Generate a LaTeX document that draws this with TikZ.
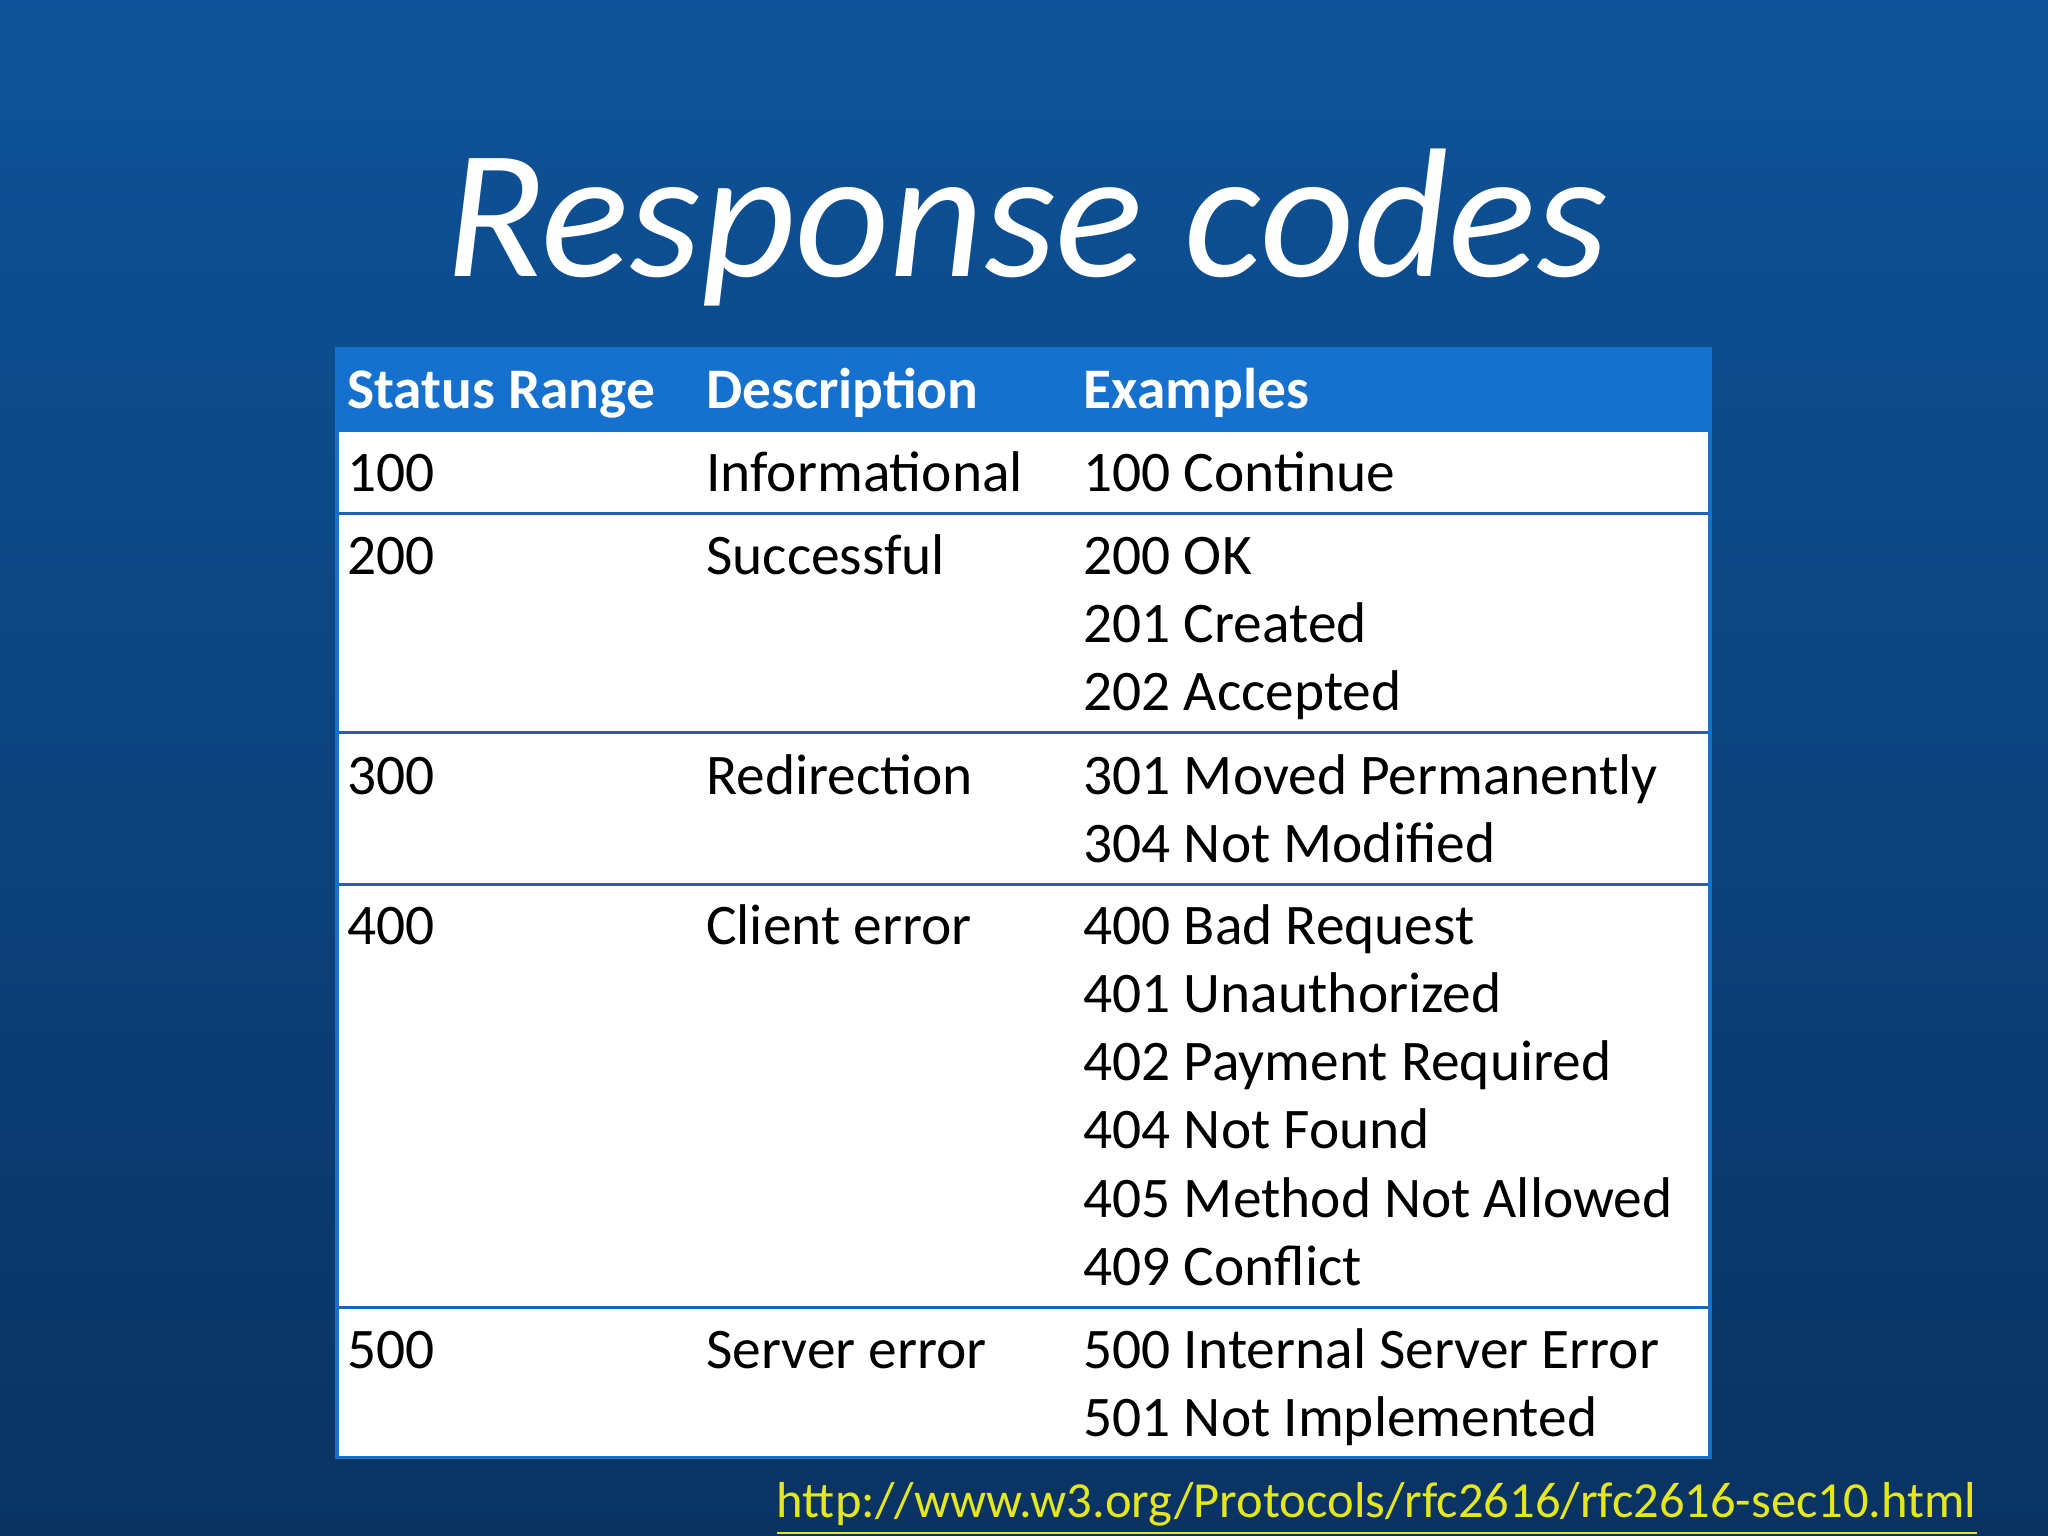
\documentclass[tikz,border=0pt]{standalone}
\usepackage{fontspec}
\setmainfont{Carlito}
\usetikzlibrary{backgrounds}
\definecolor{hdr}{HTML}{1570CE}
\definecolor{rule}{HTML}{1A63B8}
\definecolor{bgtop}{HTML}{0E5399}
\definecolor{bgbot}{HTML}{0A3362}
\definecolor{url}{HTML}{E6E61E}
\tikzset{
 cell/.style={anchor=base west,inner sep=0pt,font=\fontsize{12.5pt}{15pt}\selectfont,text=black},
 hcell/.style={anchor=base west,inner sep=0pt,font=\fontsize{12.5pt}{15pt}\selectfont\bfseries,text=white},
 sep/.style={draw=rule,line width=0.6pt}
}
\begin{document}
\begin{tikzpicture}[x=0.01cm,y=-0.01cm]
\shade[top color=bgtop,bottom color=bgbot] (0,0) rectangle (1568,1176);
\useasboundingbox (0,0) rectangle (1568,1176);
\node[anchor=base,inner sep=0pt,text=white,font=\fontsize{40pt}{44pt}\selectfont\itshape] (title) at (786,212) {Response codes};
\fill[white] (258,331) rectangle (1309,1116);
\fill[hdr] (258,267) rectangle (1309,331);
\draw[sep] (258,393) -- (1309,393);
\draw[sep] (258,561) -- (1309,561);
\draw[sep] (258,677) -- (1309,677);
\draw[sep] (258,1001) -- (1309,1001);
\draw[draw=hdr,line width=0.8pt] (258,267) rectangle (1309,1116);
\node[hcell] (h1) at (265,313) {Status Range};
\node[hcell] (h2) at (540,313) {Description};
\node[hcell] (h3) at (829,313) {Examples};
% row 100
\node[cell] (r1a) at (265,376) {100};
\node[cell] (r1b) at (540,376) {Informational};
\node[cell] (r1c) at (829,376) {100 Continue};
% row 200
\node[cell] (r2a) at (265,440) {200};
\node[cell] (r2b) at (540,440) {Successful};
\node[cell,align=left] (r2c) at (829,440) {200 OK};
\node[cell] (r2d) at (829,492) {201 Created};
\node[cell] (r2e) at (829,544) {202 Accepted};
% row 300
\node[cell] (r3a) at (265,608) {300};
\node[cell] (r3b) at (540,608) {Redirection};
\node[cell] (r3c) at (829,608) {301 Moved Permanently};
\node[cell] (r3d) at (829,660) {304 Not Modified};
% row 400
\node[cell] (r4a) at (265,723) {400};
\node[cell] (r4b) at (540,723) {Client error};
\node[cell] (r4c) at (829,723) {400 Bad Request};
\node[cell] (r4d) at (829,775) {401 Unauthorized};
\node[cell] (r4e) at (829,827) {402 Payment Required};
\node[cell] (r4f) at (829,879) {404 Not Found};
\node[cell] (r4g) at (829,932) {405 Method Not Allowed};
\node[cell] (r4h) at (829,984) {409 Conflict};
% row 500
\node[cell] (r5a) at (265,1048) {500};
\node[cell] (r5b) at (540,1048) {Server error};
\node[cell] (r5c) at (829,1048) {500 Internal Server Error};
\node[cell] (r5d) at (829,1100) {501 Not Implemented};
\node[anchor=base east,inner sep=0pt,text=url,font=\fontsize{11pt}{13pt}\selectfont] (link) at (1514,1162) {\underline{http://www.w3.org/Protocols/rfc2616/rfc2616-sec10.html}};
\end{tikzpicture}
\end{document}
